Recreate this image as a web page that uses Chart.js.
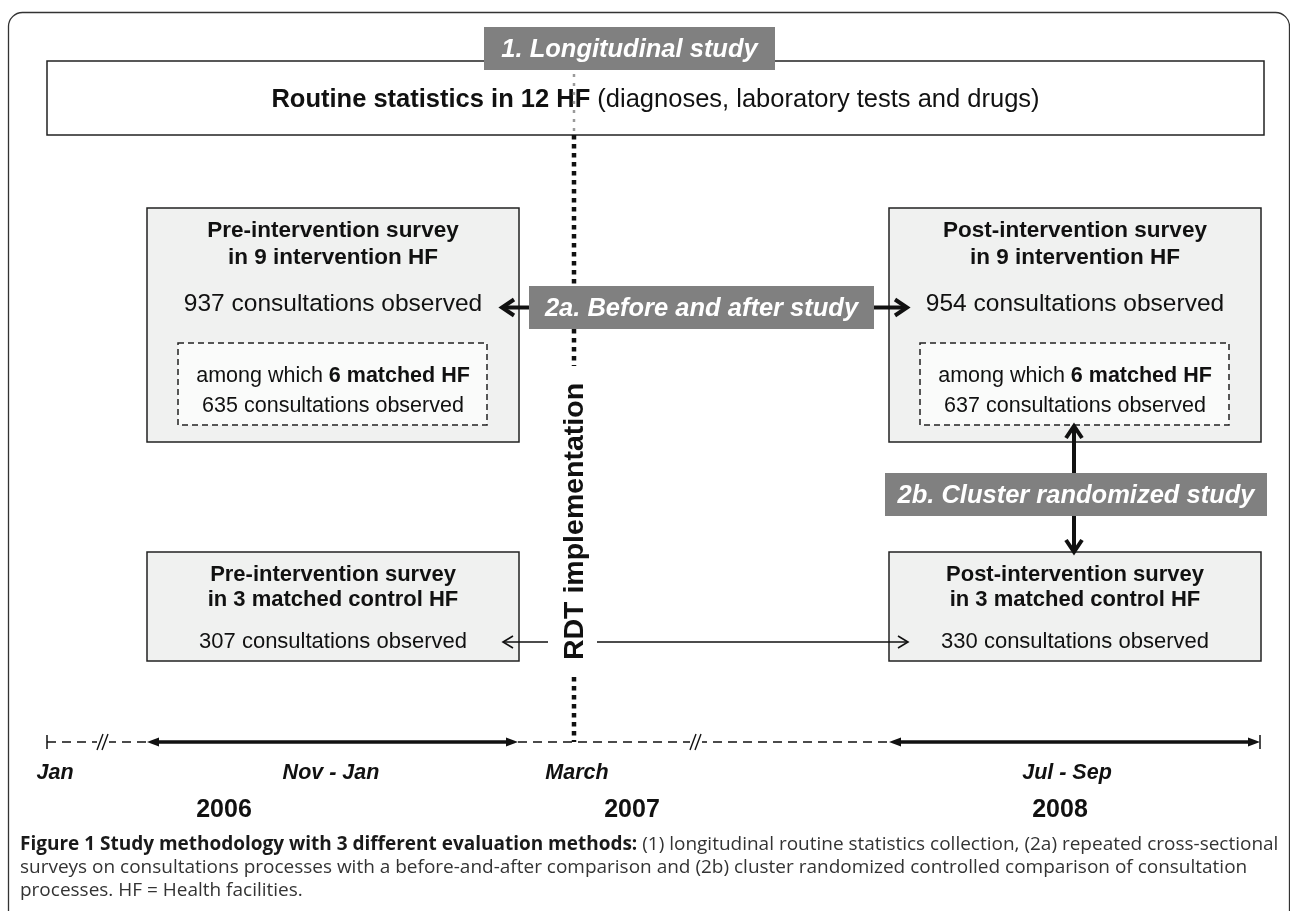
<!DOCTYPE html>
<html>
<head>
<meta charset="utf-8">
<title>Study methodology</title>
<script src="https://cdn.jsdelivr.net/npm/chart.js@4.4.1/dist/chart.umd.min.js"></script>
<style>
  html, body { margin: 0; padding: 0; background: #fff; }
  #wrap { width: 1290px; height: 911px; }
</style>
</head>
<body>
<div id="wrap"><canvas id="diagram" width="1290" height="911"></canvas></div>
<script>
// values
const studyLabels = ['1. Longitudinal study', '2a. Before and after study', '2b. Cluster randomized study'];
const periodLabels = ['Jan', 'Nov - Jan', 'March', 'Jul - Sep'];
const yearLabels = ['2006', '2007', '2008'];
const hfCounts = [12, 9, 6, 3];          // routine, intervention, matched, control
const interventionObs = [937, 954];      // pre, post
const matchedObs = [635, 637];
const controlObs = [307, 330];
const phaseNames = ['Pre', 'Post'];

// layout of the drawing (in axis units, 1 unit = 1 px)
const L = {
  border: { x0: 8.5, y0: 12.5, x1: 1289.5, y1: 960, r: 14 },
  topBox: { x0: 47, y0: 61, x1: 1264, y1: 135, textY: 100 },
  cols: [[147, 519], [889, 1261]],
  upper: { y0: 208, y1: 442, title: [231, 258], count: 304, dash: [343, 425], dashText: [376, 406], inset: 31 },
  lower: { y0: 552, y1: 661, title: [575, 600], count: 642 },
  label1: { x0: 484, x1: 775, y0: 27, y1: 70 },
  label2a: { x0: 529, x1: 874, y0: 286, y1: 329 },
  label2b: { x0: 885, x1: 1267, y0: 473, y1: 516 },
  rdtX: 574,
  rdtText: [382, 661],
  tlY: 742,
  tlStart: 47, tlEnd: 1260,
  surveys: [[147, 518], [889, 1260]],
  breaks: [103, 696],
  periodX: [55, 331, 577, 1067],
  periodY: 773,
  yearX: [224, 632, 1060],
  yearY: 810,
  captionX: 20, captionW: 1259, captionY: [845, 868, 891]
};

const SANS = '"Liberation Sans", Arial, Helvetica, sans-serif';
const font = (bold, size, italic) => `${italic ? 'italic ' : ''}${bold ? 'bold ' : ''}${size}px ${SANS}`;
const INK = '#111';

const pt = (x, y) => ({ x, y });
const gap = x => ({ x, y: null });

function richText(ctx, parts, cx, cy, size, color, italic) {
  let w = 0;
  parts.forEach(p => { ctx.font = font(p.b, size, italic); p.w = ctx.measureText(p.t).width; w += p.w; });
  let x = cx - w / 2;
  ctx.textAlign = 'left';
  ctx.textBaseline = 'middle';
  ctx.fillStyle = color;
  parts.forEach(p => { ctx.font = font(p.b, size, italic); ctx.fillText(p.t, x, cy); x += p.w; });
}

function head(ctx, tx, ty, dx, dy, len, half, filled) {
  const bx = tx - dx * len, by = ty - dy * len;
  const px = -dy, py = dx;
  ctx.beginPath();
  ctx.moveTo(bx + px * half, by + py * half);
  ctx.lineTo(tx, ty);
  ctx.lineTo(bx - px * half, by - py * half);
  if (filled) { ctx.closePath(); ctx.fill(); } else ctx.stroke();
}

function arrow(ctx, x0, y0, x1, y1, width, len, half) {
  const d = Math.hypot(x1 - x0, y1 - y0), dx = (x1 - x0) / d, dy = (y1 - y0) / d;
  ctx.lineWidth = width;
  ctx.strokeStyle = INK;
  ctx.lineCap = 'butt';
  ctx.lineJoin = 'miter';
  ctx.beginPath();
  ctx.moveTo(x0, y0);
  ctx.lineTo(x1 - dx * width * 0.6, y1 - dy * width * 0.6);
  ctx.stroke();
  head(ctx, x1, y1, dx, dy, len, half, false);
}

function rect(ctx, x0, y0, x1, y1, fill, stroke, dash) {
  ctx.save();
  if (fill) { ctx.fillStyle = fill; ctx.fillRect(x0, y0, x1 - x0, y1 - y0); }
  if (stroke) {
    ctx.strokeStyle = stroke;
    ctx.lineWidth = 1.5;
    ctx.setLineDash(dash || []);
    ctx.strokeRect(x0, y0, x1 - x0, y1 - y0);
  }
  ctx.restore();
}

function studyLabel(ctx, s, b, text) {
  const x0 = s.x(b.x0), x1 = s.x(b.x1), y0 = s.y(b.y0), y1 = s.y(b.y1);
  ctx.fillStyle = '#808080';
  ctx.fillRect(x0, y0, x1 - x0, y1 - y0);
  richText(ctx, [{ t: text, b: true }], (x0 + x1) / 2, (y0 + y1) / 2 + 1, 25.5, '#fff', true);
}

const boxesPlugin = {
  id: 'boxes',
  beforeDatasetsDraw(chart) {
    const ctx = chart.ctx;
    const s = { x: v => chart.scales.x.getPixelForValue(v), y: v => chart.scales.y.getPixelForValue(v) };
    ctx.save();

    // outer frame
    const B = L.border;
    ctx.strokeStyle = '#333';
    ctx.lineWidth = 1.3;
    ctx.beginPath();
    ctx.roundRect(s.x(B.x0), s.y(B.y0), s.x(B.x1) - s.x(B.x0), s.y(B.y1) - s.y(B.y0), B.r);
    ctx.stroke();

    // routine statistics box
    const T = L.topBox;
    rect(ctx, s.x(T.x0), s.y(T.y0), s.x(T.x1), s.y(T.y1), '#fff', '#222');
    richText(ctx, [
      { t: `Routine statistics in ${hfCounts[0]} HF`, b: true },
      { t: ' (diagnoses, laboratory tests and drugs)', b: false }
    ], s.x((T.x0 + T.x1) / 2), s.y(T.textY), 25.5, INK);

    // survey boxes
    L.cols.forEach(([c0, c1], i) => {
      const cx = s.x((c0 + c1) / 2);
      const U = L.upper;
      rect(ctx, s.x(c0), s.y(U.y0), s.x(c1), s.y(U.y1), '#f0f1f0', '#222');
      richText(ctx, [{ t: `${phaseNames[i]}-intervention survey`, b: true }], cx, s.y(U.title[0]), 22.5, INK);
      richText(ctx, [{ t: `in ${hfCounts[1]} intervention HF`, b: true }], cx, s.y(U.title[1]), 22.5, INK);
      richText(ctx, [{ t: `${interventionObs[i]} consultations observed`, b: false }], cx, s.y(U.count), 24.5, INK);
      rect(ctx, s.x(c0 + U.inset), s.y(U.dash[0]), s.x(c1 - U.inset - 1), s.y(U.dash[1]), '#fafbfa', '#222', [6, 4]);
      richText(ctx, [{ t: 'among which ', b: false }, { t: `${hfCounts[2]} matched HF`, b: true }], cx, s.y(U.dashText[0]), 21.5, INK);
      richText(ctx, [{ t: `${matchedObs[i]} consultations observed`, b: false }], cx, s.y(U.dashText[1]), 21.5, INK);

      const W = L.lower;
      rect(ctx, s.x(c0), s.y(W.y0), s.x(c1), s.y(W.y1), '#f0f1f0', '#222');
      richText(ctx, [{ t: `${phaseNames[i]}-intervention survey`, b: true }], cx, s.y(W.title[0]), 22, INK);
      richText(ctx, [{ t: `in ${hfCounts[3]} matched control HF`, b: true }], cx, s.y(W.title[1]), 22, INK);
      richText(ctx, [{ t: `${controlObs[i]} consultations observed`, b: false }], cx, s.y(W.count), 22, INK);
    });
    ctx.restore();
  },
  afterDatasetsDraw(chart) {
    const ctx = chart.ctx;
    const s = { x: v => chart.scales.x.getPixelForValue(v), y: v => chart.scales.y.getPixelForValue(v) };
    ctx.save();

    // timeline ends, arrowheads and break marks
    const ty = s.y(L.tlY);
    ctx.strokeStyle = INK;
    ctx.fillStyle = INK;
    ctx.lineWidth = 1.5;
    [L.tlStart, L.tlEnd].forEach(x => {
      ctx.beginPath(); ctx.moveTo(s.x(x), ty - 7); ctx.lineTo(s.x(x), ty + 7); ctx.stroke();
    });
    L.surveys.forEach(([a, b]) => {
      head(ctx, s.x(a), ty, -1, 0, 12, 4.5, true);
      head(ctx, s.x(b), ty, 1, 0, 12, 4.5, true);
    });
    L.breaks.forEach(x => {
      const px = s.x(x);
      ctx.fillStyle = '#fff';
      ctx.fillRect(px - 6, ty - 2, 12, 4);
      ctx.lineWidth = 1.4;
      [-3, 2].forEach(o => {
        ctx.beginPath(); ctx.moveTo(px + o - 3, ty + 8); ctx.lineTo(px + o + 3, ty - 8); ctx.stroke();
      });
    });

    // period and year labels
    periodLabels.forEach((t, i) => richText(ctx, [{ t, b: true }], s.x(L.periodX[i]), s.y(L.periodY), 21.5, INK, true));
    yearLabels.forEach((t, i) => richText(ctx, [{ t, b: true }], s.x(L.yearX[i]), s.y(L.yearY), 25, INK));

    // RDT implementation (vertical)
    ctx.save();
    ctx.translate(s.x(L.rdtX), s.y((L.rdtText[0] + L.rdtText[1]) / 2));
    ctx.rotate(-Math.PI / 2);
    richText(ctx, [{ t: 'RDT implementation', b: true }], 0, 1, 28.5, INK);
    ctx.restore();

    // thin arrows from the RDT line to the control boxes
    const cy = s.y(L.lower.count);
    arrow(ctx, s.x(548), cy, s.x(503), cy, 1.6, 10, 6);
    arrow(ctx, s.x(597), cy, s.x(908), cy, 1.6, 10, 6);

    // study labels and their arrows
    studyLabel(ctx, s, L.label1, studyLabels[0]);
    studyLabel(ctx, s, L.label2a, studyLabels[1]);
    studyLabel(ctx, s, L.label2b, studyLabels[2]);
    const ay = s.y((L.label2a.y0 + L.label2a.y1) / 2);
    arrow(ctx, s.x(L.label2a.x0), ay, s.x(502), ay, 4, 12, 8);
    arrow(ctx, s.x(L.label2a.x1), ay, s.x(907), ay, 4, 12, 8);
    const ax = s.x(1074);
    arrow(ctx, ax, s.y(L.label2b.y0), ax, s.y(L.upper.dash[1] + 1), 4, 12, 8);
    arrow(ctx, ax, s.y(L.label2b.y1), ax, s.y(L.lower.y0), 4, 12, 8);

    // caption, fitted to the text block width
    const cap1b = 'Figure 1 Study methodology with 3 different evaluation methods:';
    const cap1r = ' (1) longitudinal routine statistics collection, (2a) repeated cross-sectional';
    const cap2 = 'surveys on consultations processes with a before-and-after comparison and (2b) cluster randomized controlled comparison of consultation';
    const cap3 = 'processes. HF = Health facilities.';
    const CF = '"Open Sans", "Noto Sans", sans-serif';
    ctx.font = `bold 16px ${CF}`;
    let w = ctx.measureText(cap1b).width;
    ctx.font = `16px ${CF}`;
    w += ctx.measureText(cap1r).width;
    const fs = 16 * L.captionW / w;
    ctx.textAlign = 'left';
    ctx.textBaseline = 'middle';
    const cx0 = s.x(L.captionX);
    ctx.font = `bold ${fs}px ${CF}`;
    ctx.fillStyle = '#1a1a1a';
    ctx.fillText(cap1b, cx0, s.y(L.captionY[0]));
    const bw = ctx.measureText(cap1b).width;
    ctx.font = `${fs}px ${CF}`;
    ctx.fillStyle = '#333';
    ctx.fillText(cap1r, cx0 + bw, s.y(L.captionY[0]));
    ctx.fillText(cap2, cx0, s.y(L.captionY[1]));
    ctx.fillText(cap3, cx0, s.y(L.captionY[2]));
    ctx.restore();
  }
};

const ctx = document.getElementById('diagram').getContext('2d');
new Chart(ctx, {
  type: 'scatter',
  data: {
    datasets: [
      {
        // dashed timeline between the survey periods
        type: 'line',
        data: [pt(L.tlStart, L.tlY), pt(L.surveys[0][0], L.tlY), gap(L.surveys[0][0]),
               pt(L.surveys[0][1], L.tlY), pt(L.surveys[1][0], L.tlY)],
        borderColor: INK, borderWidth: 1.5, borderDash: [9, 6], pointRadius: 0, spanGaps: false
      },
      {
        // survey periods
        type: 'line',
        data: [pt(L.surveys[0][0] + 6, L.tlY), pt(L.surveys[0][1] - 6, L.tlY), gap(L.surveys[0][1]),
               pt(L.surveys[1][0] + 6, L.tlY), pt(L.surveys[1][1] - 6, L.tlY)],
        borderColor: INK, borderWidth: 3.5, pointRadius: 0, spanGaps: false
      },
      {
        // RDT implementation line, faint inside the routine box
        type: 'line',
        data: [pt(L.rdtX, L.label1.y1 + 4), pt(L.rdtX, L.topBox.y1)],
        borderColor: '#9a9a9a', borderWidth: 2.5, borderDash: [3, 6], pointRadius: 0
      },
      {
        type: 'line',
        data: [pt(L.rdtX, L.topBox.y1), pt(L.rdtX, L.label2a.y0), gap(L.rdtX),
               pt(L.rdtX, L.label2a.y1), pt(L.rdtX, L.rdtText[0] - 16), gap(L.rdtX),
               pt(L.rdtX, L.rdtText[1] + 16), pt(L.rdtX, L.tlY)],
        borderColor: INK, borderWidth: 4.5, borderDash: [4.5, 4.5], pointRadius: 0, spanGaps: false
      }
    ]
  },
  options: {
    responsive: false,
    animation: false,
    devicePixelRatio: 1,
    layout: { padding: 0 },
    plugins: { legend: { display: false }, tooltip: { enabled: false } },
    scales: {
      x: { type: 'linear', min: 0, max: 1290, display: false },
      y: { type: 'linear', min: 0, max: 911, reverse: true, display: false }
    }
  },
  plugins: [boxesPlugin]
});
</script>
</body>
</html>
